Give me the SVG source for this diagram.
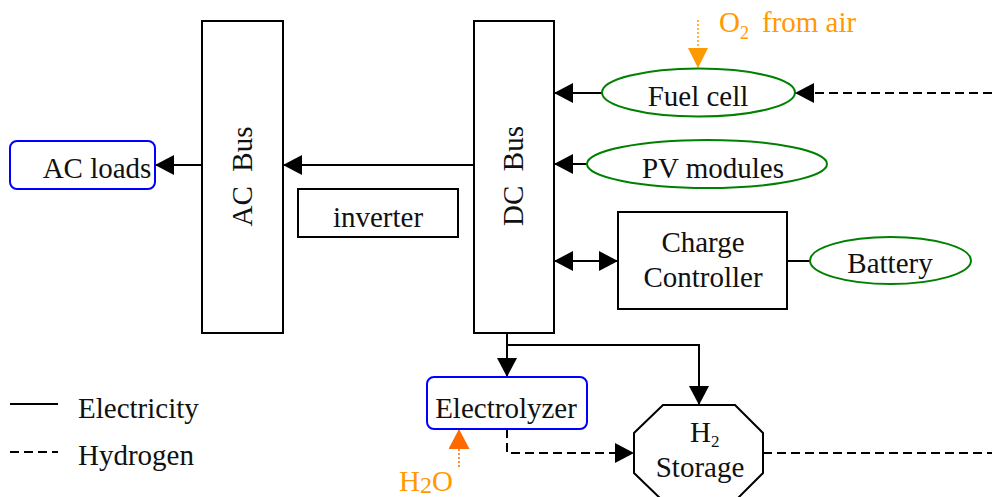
<svg xmlns="http://www.w3.org/2000/svg" width="992" height="497" viewBox="0 0 992 497" font-family="'Liberation Serif', 'DejaVu Serif', serif">
<style>
text{font-size:29px;fill:#111}
.c{text-anchor:middle}
.box{fill:#fff;stroke:#000;stroke-width:2}
.green{fill:#fff;stroke:#008000;stroke-width:2}
.blue{fill:#fff;stroke:#0000ff;stroke-width:2}
.e{fill:none;stroke:#000;stroke-width:2}
.h{fill:none;stroke:#000;stroke-width:2;stroke-dasharray:9 5}
.or{fill:#ff9900}
</style>
<defs>
<marker id="a" markerUnits="userSpaceOnUse" viewBox="0 0 19 20" markerWidth="19" markerHeight="20" refX="19" refY="10" orient="auto-start-reverse"><path d="M0,0L19,10L0,20z" fill="#000"/></marker>
<marker id="o" markerUnits="userSpaceOnUse" viewBox="0 0 20 20" markerWidth="20" markerHeight="20" refX="20" refY="10" orient="auto"><path d="M0,0L20,10L0,20z" fill="#ff9900"/></marker>
<marker id="r" markerUnits="userSpaceOnUse" viewBox="0 0 20 21" markerWidth="20" markerHeight="21" refX="20" refY="10.5" orient="auto"><path d="M0,0L20,10.5L0,21z" fill="#ff6a00"/></marker>
</defs>
<g id="connectors">
<path class="e" d="M474,165H283" marker-end="url(#a)"/>
<path class="e" d="M202,165H155" marker-end="url(#a)"/>
<path class="e" d="M602,93H554" marker-end="url(#a)"/>
<path class="e" d="M587,164H554" marker-end="url(#a)"/>
<path class="e" d="M554,261H618" marker-start="url(#a)" marker-end="url(#a)"/>
<path class="e" d="M787,261H810"/>
<path class="e" d="M507,333V377" marker-end="url(#a)"/>
<path class="e" d="M507,345H699V405" marker-end="url(#a)"/>
<path class="h" d="M507,429V453H634" marker-end="url(#a)"/>
<path class="h" d="M763,453H992"/>
<path class="h" d="M992,93H795" marker-end="url(#a)"/>
<path d="M698,20V68" fill="none" stroke="#ff9900" stroke-width="1.5" stroke-dasharray="2 2" marker-end="url(#o)"/>
<path d="M459,467V429" fill="none" stroke="#ff6a00" stroke-width="1.5" stroke-dasharray="2 2" marker-end="url(#r)"/>
</g>
<g id="ac-loads"><rect class="blue" x="10" y="141" width="145" height="48" rx="7"/><text class="c" x="97" y="178">AC loads</text></g>
<g id="ac-bus"><rect class="box" x="202" y="21" width="81" height="312"/><text class="c" x="252" y="176.5" transform="rotate(-90 252 176.5)" xml:space="preserve">AC  Bus</text></g>
<g id="inverter"><rect class="box" x="298" y="189" width="160" height="48"/><text class="c" x="378" y="227">inverter</text></g>
<g id="dc-bus"><rect class="box" x="474" y="21" width="80" height="312"/><text class="c" x="523" y="176" transform="rotate(-90 523 176)" xml:space="preserve">DC  Bus</text></g>
<g id="fuel-cell"><ellipse class="green" cx="698.5" cy="92.5" rx="96.5" ry="24"/><text class="c" x="698" y="106">Fuel cell</text></g>
<g id="pv-modules"><ellipse class="green" cx="707" cy="164" rx="120" ry="24"/><text class="c" x="713" y="178">PV modules</text></g>
<g id="charge-controller"><rect class="box" x="618" y="212" width="169" height="97"/><text class="c" x="703" y="252">Charge</text><text class="c" x="703" y="287">Controller</text></g>
<g id="battery"><ellipse class="green" cx="890.5" cy="260.5" rx="80.5" ry="23.5"/><text class="c" x="890" y="273">Battery</text></g>
<g id="electrolyzer"><rect class="blue" x="427" y="377" width="160" height="52" rx="7"/><text class="c" x="506" y="418">Electrolyzer</text></g>
<g id="h2-storage"><polygon class="box" points="663,405 735,405 763,433 763,473 735,501 663,501 634,473 634,433"/><text x="690" y="442">H<tspan font-size="17" dy="5">2</tspan></text><text class="c" x="700" y="477">Storage</text></g>
<g id="o2"><text class="or" x="719" y="32">O<tspan font-size="18" dy="7">2 </tspan><tspan x="762" dy="-7">from air</tspan></text></g>
<g id="h2o"><text class="or" x="399" y="491">H<tspan font-size="24" dy="2">2</tspan><tspan dy="-2">O</tspan></text></g>
<g id="legend">
<path class="e" d="M10,404H58"/>
<path class="h" d="M10,452H58"/>
<text x="78" y="418">Electricity</text>
<text x="78" y="465">Hydrogen</text>
</g>
</svg>
